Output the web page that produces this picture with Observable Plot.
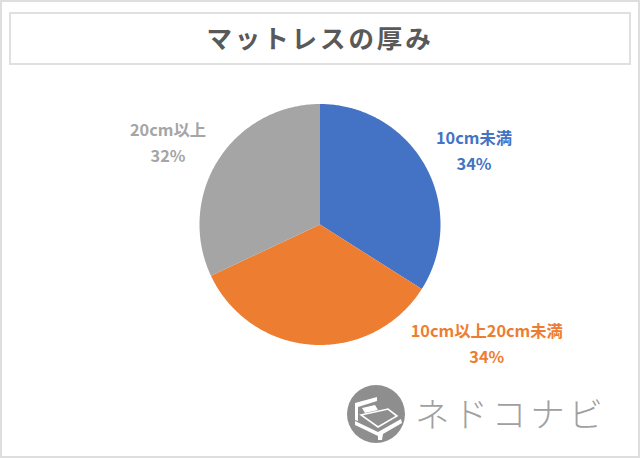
<!DOCTYPE html>
<html lang="ja">
<head>
<meta charset="utf-8">
<script src="https://cdn.jsdelivr.net/npm/d3@7"></script>
<script src="https://cdn.jsdelivr.net/npm/@observablehq/plot@0.6"></script>
<style>
  html, body { margin: 0; padding: 0; background: #fff; }
  #frame { position: relative; width: 640px; height: 458px; overflow: hidden; background: #fff; font-family: "Noto Sans CJK JP", sans-serif; }
  #frame::after { content: ""; position: absolute; inset: 0; border: 2px solid #dedede; box-sizing: border-box; pointer-events: none; }
  #title { position: absolute; left: 9px; top: 12px; width: 622px; height: 53px; box-sizing: border-box; border: 2px solid #e0e0e0; padding-bottom: 5px; display: flex; align-items: center; justify-content: center; font-size: 25.5px; font-weight: 700; letter-spacing: 2.9px; color: #595959; }
  #chart { position: absolute; left: 0; top: 0; }
  #chart svg { display: block; background: transparent; }
  #logo { position: absolute; left: 347px; top: 385px; }
  #brand { position: absolute; left: 415px; top: 386px; font-size: 34.5px; font-weight: 300; letter-spacing: 3.9px; color: #a0a0a0; line-height: 52px; font-family: "Noto Sans CJK JP", sans-serif; }
</style>
</head>
<body>
<div id="frame">
  <div id="chart"></div>
  <div id="title"></div>
  <svg id="logo" width="58" height="58" viewBox="0 0 58 58">
    <circle cx="29" cy="29" r="29" fill="#8e8e8e"/>
    <path d="M8 18 L30 12 L30 16 L11 22 L11 36 L8 35 Z" fill="#fff"/>
    <path d="M15 23 L28 20 L31 25 L18 28 Z" fill="#fff"/>
    <path d="M14 30 L41 24 L50 31 L31 42 Z" fill="#8e8e8e" stroke="#fff" stroke-width="1.6"/>
    <path d="M8 36 L31 47 L54 34 L55 38 L36 49 L35 55 L31 55 L31 51 L8 40 Z" fill="#fff"/>
  </svg>
  <div id="brand"></div>
</div>
<script>
const titleText = "マットレスの厚み";
const brandText = "ネドコナビ";
const categories = ["10cm未満", "10cm以上20cm未満", "20cm以上"];
const shares = [34, 34, 32];
const colors = ["#4472c4", "#ed7d31", "#a5a5a5"];
const shareLabels = ["34%", "34%", "32%"];
// where each data label sits, relative to the pie (radius units, clockwise degrees from 12 o'clock)
const labelRadius = [1.416, 1.70, 1.431];
const labelAngle = [64.5, 125.5, 298.2];

document.getElementById("title").textContent = titleText;
document.getElementById("brand").textContent = brandText;

const width = 640, height = 458, cx = 319.5, cy = 224, r = 120.5;
const pie = d3.pie().sort(null).value(d => d)(shares);

// outline of every slice, in unit-circle coordinates
const outline = pie.flatMap((s, i) => {
  const steps = Math.ceil((s.endAngle - s.startAngle) / 0.01);
  const pts = [{cat: categories[i], a: 0, c: 0}];
  for (let k = 0; k <= steps; ++k) {
    const t = s.startAngle + (s.endAngle - s.startAngle) * k / steps;
    pts.push({cat: categories[i], a: Math.sin(t), c: Math.cos(t)});
  }
  pts.push({cat: categories[i], a: 0, c: 0});
  return pts;
});

const labels = categories.map((cat, i) => {
  const t = labelAngle[i] * Math.PI / 180;
  return {cat, text: cat + "\n" + shareLabels[i], a: labelRadius[i] * Math.sin(t), c: labelRadius[i] * Math.cos(t)};
});

const plot = Plot.plot({
  width, height,
  margin: 0,
  x: {domain: [-cx / r, (width - cx) / r], range: [0, width], axis: null},
  y: {domain: [-(height - cy) / r, cy / r], range: [height, 0], axis: null},
  color: {domain: categories, range: colors},
  marks: [
    Plot.line(outline, {x: "a", y: "c", z: "cat", fill: "cat", stroke: null, curve: "linear",
      style: {filter: "drop-shadow(0 0 2px rgba(0,0,0,0.18))"}}),
    Plot.text(labels, {x: "a", y: "c", text: "text", fill: "cat", dy: -2,
      fontSize: 16.3, fontWeight: 700, lineHeight: 1.58, textAnchor: "middle",
      fontFamily: "'Noto Sans CJK JP', sans-serif"})
  ]
});
document.getElementById("chart").append(plot);
</script>
</body>
</html>
